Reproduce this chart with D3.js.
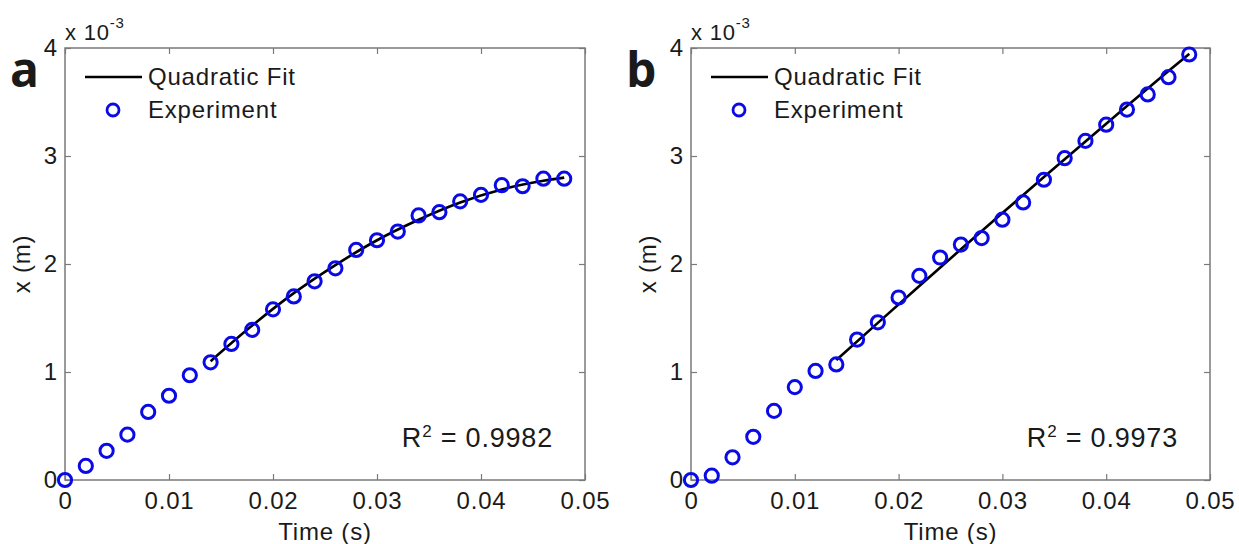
<!DOCTYPE html>
<html>
<head>
<meta charset="utf-8">
<script src="https://cdn.jsdelivr.net/npm/d3@7"></script>
<style>
  body { margin: 0; background: #fff; }
  text { font-family: "Liberation Sans", Arial, sans-serif; fill: #1a1a1a; letter-spacing: 0.8px; }
</style>
</head>
<body>
<script>
var width = 1239,
    height = 544;

// data (x in units of 1e-3 m)
var times = [0, 0.002, 0.004, 0.006, 0.008, 0.010, 0.012, 0.014, 0.016, 0.018, 0.020, 0.022,
             0.024, 0.026, 0.028, 0.030, 0.032, 0.034, 0.036, 0.038, 0.040, 0.042, 0.044, 0.046, 0.048];
var expA = [0, 0.13, 0.27, 0.42, 0.63, 0.78, 0.97, 1.09, 1.26, 1.39, 1.58, 1.70,
            1.84, 1.96, 2.13, 2.22, 2.30, 2.45, 2.48, 2.58, 2.64, 2.73, 2.72, 2.79, 2.79];
var expB = [0, 0.04, 0.21, 0.40, 0.64, 0.86, 1.01, 1.07, 1.30, 1.46, 1.69, 1.89,
            2.06, 2.18, 2.24, 2.41, 2.57, 2.78, 2.98, 3.14, 3.29, 3.43, 3.57, 3.73, 3.94];

var fitTimes = [0.014, 0.018, 0.022, 0.026, 0.030, 0.034, 0.038, 0.042, 0.046, 0.048];
var fitA = [1.10, 1.43, 1.73, 1.99, 2.22, 2.41, 2.57, 2.69, 2.77, 2.80];
var fitB = [1.11, 1.455, 1.797, 2.136, 2.472, 2.805, 3.135, 3.462, 3.786, 3.946];

var xTicks = [0, 0.01, 0.02, 0.03, 0.04, 0.05],
    xTickLabels = ["0", "0.01", "0.02", "0.03", "0.04", "0.05"];
var yTicks = [0, 1, 2, 3, 4],
    yTickLabels = ["0", "1", "2", "3", "4"];

var panels = [
  {label: "a", left: 65, right: 585, labelX: 10, exp: expA, fit: fitA, r2: "0.9982"},
  {label: "b", left: 691, right: 1210, labelX: 626, exp: expB, fit: fitB, r2: "0.9973"}
];

var plotTop = 48, plotBottom = 480;
var blue = "#0a0ae6", frame = "#7a7a7a";

var svg = d3.select("body")
            .append("svg")
            .attr("width", width)
            .attr("height", height);

svg.append("rect").attr("width", width).attr("height", height).attr("fill", "#fff");

panels.forEach(function(p) {
  var x = d3.scaleLinear().domain([0, 0.05]).range([p.left, p.right]),
      y = d3.scaleLinear().domain([0, 4]).range([plotBottom, plotTop]);

  var g = svg.append("g");

  // axes (ticks pointing inwards, like matlab)
  var styleAxis = function(sel) {
    sel.select(".domain").remove();
    sel.selectAll(".tick line").attr("stroke", frame).attr("stroke-width", 1.2);
    sel.selectAll("text").style("font-size", "24px").attr("fill", "#1a1a1a");
  };

  g.append("g")
   .attr("transform", "translate(0," + plotBottom + ")")
   .call(d3.axisBottom(x).tickValues(xTicks).tickSizeInner(-6).tickSizeOuter(0).tickPadding(12)
           .tickFormat(function(d, i) { return xTickLabels[i]; }))
   .call(styleAxis);

  g.append("g")
   .attr("transform", "translate(0," + plotTop + ")")
   .call(d3.axisTop(x).tickValues(xTicks).tickSizeInner(-6).tickSizeOuter(0).tickFormat(""))
   .call(styleAxis);

  g.append("g")
   .attr("transform", "translate(" + p.left + ",0)")
   .call(d3.axisLeft(y).tickValues(yTicks).tickSizeInner(-6).tickSizeOuter(0).tickPadding(7)
           .tickFormat(function(d, i) { return yTickLabels[i]; }))
   .call(styleAxis);

  g.append("g")
   .attr("transform", "translate(" + p.right + ",0)")
   .call(d3.axisRight(y).tickValues(yTicks).tickSizeInner(-6).tickSizeOuter(0).tickFormat(""))
   .call(styleAxis);

  g.append("rect")
   .attr("x", p.left).attr("y", plotTop)
   .attr("width", p.right - p.left).attr("height", plotBottom - plotTop)
   .attr("fill", "none").attr("stroke", frame).attr("stroke-width", 1.5);

  // fit line
  var line = d3.line()
               .curve(d3.curveMonotoneX)
               .x(function(d, i) { return x(fitTimes[i]); })
               .y(function(d) { return y(d); });

  g.append("path")
   .attr("d", line(p.fit))
   .attr("fill", "none")
   .attr("stroke", "#000")
   .attr("stroke-width", 2.6);

  // experiment points
  g.selectAll("circle.pt")
   .data(p.exp)
   .enter()
   .append("circle")
   .attr("class", "pt")
   .attr("cx", function(d, i) { return x(times[i]); })
   .attr("cy", function(d) { return y(d); })
   .attr("r", 6.6)
   .attr("fill", "none")
   .attr("stroke", blue)
   .attr("stroke-width", 3);

  // exponent label
  var ex = g.append("text")
            .attr("x", p.left)
            .attr("y", 40)
            .style("font-size", "22px");
  ex.append("tspan").text("x 10");
  ex.append("tspan").attr("dy", -12).style("font-size", "15px").text("-3");

  // y label
  g.append("text")
   .attr("transform", "translate(" + (p.left - 35) + "," + ((plotTop + plotBottom) / 2) + ") rotate(-90)")
   .attr("text-anchor", "middle")
   .style("font-size", "24px")
   .text("x (m)");

  // x label
  g.append("text")
   .attr("x", (p.left + p.right) / 2)
   .attr("y", 540)
   .attr("text-anchor", "middle")
   .style("font-size", "24px")
   .text("Time (s)");

  // panel letter
  g.append("text")
   .attr("x", p.labelX)
   .attr("y", 87)
   .style("font-size", "48px")
   .style("font-weight", "bold")
   .style("letter-spacing", "0px")
   .style("font-family", "'Open Sans', sans-serif")
   .text(p.label);

  // legend
  g.append("line")
   .attr("x1", p.left + 20).attr("x2", p.left + 77)
   .attr("y1", 77).attr("y2", 77)
   .attr("stroke", "#000").attr("stroke-width", 2.6);
  g.append("text")
   .attr("x", p.left + 83).attr("y", 85)
   .style("font-size", "24px")
   .text("Quadratic Fit");
  g.append("circle")
   .attr("cx", p.left + 48).attr("cy", 110).attr("r", 6)
   .attr("fill", "none").attr("stroke", blue).attr("stroke-width", 2.8);
  g.append("text")
   .attr("x", p.left + 83).attr("y", 118)
   .style("font-size", "24px")
   .text("Experiment");

  // R^2
  var r = g.append("text")
           .attr("x", p.right - 32)
           .attr("y", 447)
           .attr("text-anchor", "end")
           .style("font-size", "27px");
  r.append("tspan").text("R");
  r.append("tspan").attr("dy", -10).style("font-size", "17px").text("2");
  r.append("tspan").attr("dy", 10).text(" = " + p.r2);
});
</script>
</body>
</html>
